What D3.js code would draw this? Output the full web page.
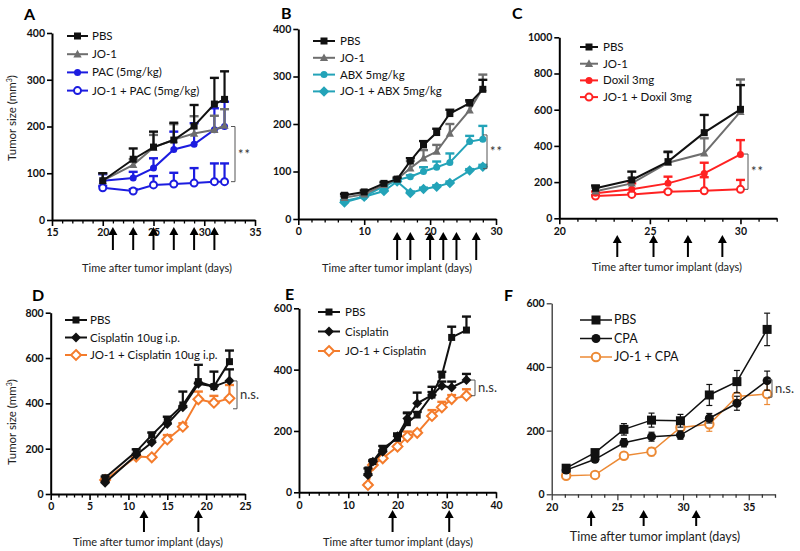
<!DOCTYPE html>
<html><head><meta charset="utf-8">
<script src="https://cdn.jsdelivr.net/npm/d3@7"></script>
<style>body{margin:0;background:#fff}</style>
</head><body><svg id="c" width="800" height="551"></svg>
<script>
// ---------------- DATA ----------------
// Panel A
const A_days = [20,23,25,27,29,31,32];
const A_PBS = [84,130,156,171,201,248,258];
const A_PBS_err = [16,23,33,37,45,56,60];
const A_JO1 = [84,118,155,172,185,193,202];
const A_JO1_err = [16,12,27,33,37,30,35];
const A_PAC = [84,90,111,151,162,193,200];
const A_PAC_err = [14,13,21,38,45,46,53];
const A_JOPAC = [69,62,75,77,79,82,82];
const A_JOPAC_err = [4,4,19,24,32,39,39];
const A_arrows = [21,23,25,27,29,31];
const A_xticks = [15,20,25,30,35];
const A_yticks = [0,100,200,300,400];
const A_bracket = [200,82];
// Panel B
const B_days = [7,10,13,15,17,19,21,23,26,28];
const B_PBS = [50,57,75,84,122,156,182,222,244,273];
const B_PBS_err = [3,3,3,3,6,8,8,8,6,20];
const B_JO1 = [45,52,72,84,107,128,142,180,229,276];
const B_JO1_err = [3,3,3,3,15,17,14,20,18,28];
const B_ABX = [38,47,69,82,89,100,109,119,163,168];
const B_ABX_err = [2,2,2,2,3,9,12,19,12,28];
const B_JOABX = [35,47,59,79,55,63,68,76,102,110];
const B_JOABX_err = [2,2,2,2,3,3,3,3,3,4];
const B_arrows = [15,17,20,22,24,27];
const B_xticks = [0,10,20,30];
const B_yticks = [0,100,200,300,400];
const B_bracket = [177,106];
// Panel C
const C_days = [22,24,26,28,30];
const C_PBS = [166,212,313,473,602];
const C_PBS_err = [15,46,55,98,134];
const C_JO1 = [150,193,307,359,589];
const C_JO1_err = [20,30,58,83,178];
const C_DOX = [138,160,193,248,353];
const C_DOX_err = [10,33,37,59,79];
const C_JODOX = [123,132,147,152,160];
const C_JODOX_err = [5,5,5,75,52];
const C_arrows = [23.2,25.2,27.1,29];
const C_xticks = [20,25,30];
const C_yticks = [0,200,400,600,800,1000];
const C_bracket = [355,160];
// Panel D
const D_days = [7,11,13,15,17,19,21,23];
const D_PBS = [72,187,260,327,393,496,474,584];
const D_PBS_err = [5,10,11,14,59,74,66,49];
const D_CIS = [50,172,227,309,383,486,474,500];
const D_CIS_err = [5,5,5,5,5,5,5,50];
const D_JOCIS = [62,165,162,241,297,418,403,422];
const D_JOCIS_err = [5,5,5,19,15,34,30,59];
const D_arrows = [12,19];
const D_xticks = [0,5,10,15,20,25];
const D_yticks = [0,200,400,600,800];
const D_bracket = [499,376];
// Panel E
const E_days = [14,15,17,20,22,24,27,29,31,34];
const E_PBS = [73,100,143,176,227,252,317,382,505,529];
const E_PBS_err = [5,5,8,16,33,10,27,11,35,44];
const E_CIS = [56,100,132,183,241,290,317,347,342,366];
const E_CIS_err = [3,3,5,5,17,35,10,14,19,20];
const E_JOCIS = [24,89,111,149,181,194,249,277,304,315];
const E_JOCIS_err = [3,3,3,3,17,5,19,18,13,21];
const E_arrows = [19,30.5];
const E_xticks = [0,10,20,30,40];
const E_yticks = [0,200,400,600];
const E_bracket = [366,315];
// Panel F
const F_days = [21.1,23.3,25.5,27.6,29.8,32,34.1,36.4];
const F_PBS = [82,131,204,233,231,312,354,518];
const F_PBS_err = [5,7,18,22,20,33,35,51];
const F_CPA = [76,110,162,181,186,239,286,357];
const F_CPA_err = [4,6,13,14,13,15,22,30];
const F_JOCPA = [58,61,121,134,210,220,307,315];
const F_JOCPA_err = [3,3,10,13,8,22,10,33];
const F_arrows = [23,27,31];
const F_xticks = [20,25,30,35];
const F_yticks = [0,200,400,600];
const F_bracket = [360,305];

// ---------------- STYLE ----------------
const FONT = "Lato, 'Open Sans', 'DejaVu Sans', sans-serif";
const BLACK = "#111", GRAY = "#6e6e6e", BLUE = "#1c1ce0", TEAL = "#23a3b8",
      RED = "#ff2222", ORANGE = "#f47c2c", ORANGE_F = "#ec8a35";

const svg = d3.select("#c");

function marker(sel, shape, color, open, size) {
  let p;
  if (shape === "square") p = sel.append("rect").attr("x",-size/2).attr("y",-size/2).attr("width",size).attr("height",size);
  else if (shape === "diamond") { const s=size*0.62; p = sel.append("path").attr("d",`M0,${-s}L${s},0L0,${s}L${-s},0Z`); }
  else if (shape === "triangle") { const s=size*0.62; p = sel.append("path").attr("d",`M0,${-s}L${s*0.95},${s*0.75}L${-s*0.95},${s*0.75}Z`); }
  else p = sel.append("circle").attr("r", size/2);
  if (open) p.attr("fill","#fff").attr("stroke",color).attr("stroke-width",2);
  else p.attr("fill",color);
  return p;
}

function drawPanel(L, series, xticks, yticks, arrows, bracket) {
  const g = svg.append("g");
  const x = d3.scaleLinear().domain(L.xd).range([L.x0, L.x1]);
  const y = d3.scaleLinear().domain(L.yd).range([L.y0, L.y1]);
  const axisColor = L.F ? "#333" : "#000";
  const aw = L.F ? 1.3 : 2;

  // minor x ticks
  const minor = d3.range(L.xd[0], L.xd[1] + 0.001, L.minorStep).filter(v => !xticks.includes(v));
  g.append("g").attr("transform",`translate(0,${L.y0})`)
    .call(d3.axisBottom(x).tickValues(minor).tickSize(3.5).tickSizeOuter(0).tickFormat(""))
    .call(a => { a.select(".domain").remove(); a.selectAll("line").attr("stroke",axisColor).attr("stroke-width",1.3); });
  // major x
  const gx = g.append("g").attr("transform",`translate(0,${L.y0})`)
    .call(d3.axisBottom(x).tickValues(xticks).tickSize(6).tickSizeOuter(0).tickPadding(3).tickFormat(d3.format("d")));
  // y axis
  const gy = g.append("g").attr("transform",`translate(${L.x0},0)`)
    .call(d3.axisLeft(y).tickValues(yticks).tickSize(5).tickSizeOuter(0).tickPadding(2).tickFormat(d3.format("d")));
  [gx, gy].forEach(a => {
    a.select(".domain").attr("stroke",axisColor).attr("stroke-width",aw);
    a.selectAll(".tick line").attr("stroke",axisColor).attr("stroke-width",L.F?1.2:1.6);
    a.selectAll(".tick text").attr("font-family",FONT).attr("font-weight","bold")
      .attr("font-size",L.tickFs||10.5).attr("fill","#111");
  });

  // series (draw last first so first series is on top)
  series.slice().reverse().forEach(s => {
    const pts = s.days.map((d,i) => ({d, v:s.v[i], e:s.e[i]}));
    const sg = g.append("g");
    pts.forEach(p => {
      const cw = L.F ? 3 : 4.5;
      const top = y(p.v + p.e), bot = L.F ? y(p.v - p.e) : y(p.v);
      sg.append("line").attr("x1",x(p.d)).attr("x2",x(p.d)).attr("y1",top).attr("y2",bot)
        .attr("stroke",s.c).attr("stroke-width",L.F?1.2:2.2);
      sg.append("line").attr("x1",x(p.d)-cw).attr("x2",x(p.d)+cw).attr("y1",top).attr("y2",top)
        .attr("stroke",s.c).attr("stroke-width",L.F?1.2:2.4);
      if (L.F) sg.append("line").attr("x1",x(p.d)-cw).attr("x2",x(p.d)+cw).attr("y1",bot).attr("y2",bot)
        .attr("stroke",s.c).attr("stroke-width",1.2);
    });
    sg.append("path").datum(pts)
      .attr("d", d3.line().x(p => x(p.d)).y(p => y(p.v)))
      .attr("fill","none").attr("stroke",s.c).attr("stroke-width",L.F?1.5:2);
    pts.forEach(p => {
      marker(sg.append("g").attr("transform",`translate(${x(p.d)},${y(p.v)})`), s.shape, s.c, s.open, s.size||(L.F?8:7));
    });
  });

  // legend
  series.forEach((s,i) => {
    const ly = L.leg.y + i*L.leg.step;
    g.append("line").attr("x1",L.leg.x0).attr("x2",L.leg.x1).attr("y1",ly).attr("y2",ly)
      .attr("stroke",s.c).attr("stroke-width",L.F?1.5:2);
    marker(g.append("g").attr("transform",`translate(${(L.leg.x0+L.leg.x1)/2},${ly})`), s.shape, s.c, s.open, s.size||(L.F?8:7));
    g.append("text").attr("x",L.leg.tx).attr("y",ly).attr("dy","0.35em")
      .attr("font-family",FONT).attr("font-size",L.legFs||11.5).attr("fill","#111").text(s.name);
  });

  // arrows
  arrows.forEach(a => {
    const ax = x(a);
    g.append("line").attr("x1",ax).attr("x2",ax).attr("y1",L.arr[1]).attr("y2",L.arr[0]+6)
      .attr("stroke","#000").attr("stroke-width",2);
    g.append("path").attr("d",`M${ax},${L.arr[0]}L${ax+4.5},${L.arr[0]+8}L${ax-4.5},${L.arr[0]+8}Z`).attr("fill","#000");
  });

  // significance bracket
  const b1 = y(bracket[0]), b2 = y(bracket[1]);
  g.append("path").attr("d",`M${L.br.x-4},${b1}H${L.br.x}V${b2}H${L.br.x-4}`)
    .attr("fill","none").attr("stroke","#555").attr("stroke-width",1);
  g.append("text").attr("x",L.br.x+3).attr("y",(b1+b2)/2).attr("dy",L.br.dy||"0.35em")
    .attr("font-family",FONT).attr("font-size",L.br.fs||13).attr("letter-spacing",L.br.ls||0)
    .attr("fill","#333").text(L.br.t);

  // titles
  g.append("text").attr("x",L.xt[0]).attr("y",L.xt[1]).attr("dy","0.35em").attr("text-anchor","middle")
    .attr("font-family",FONT).attr("font-size",L.xtFs||11).attr("fill","#222").text("Time after tumor implant (days)");
  if (L.yt) {
    const t = g.append("text").attr("transform",`translate(${L.yt[0]},${L.yt[1]}) rotate(-90)`)
      .attr("text-anchor","middle").attr("dy","0.35em").attr("font-family",FONT).attr("font-size",11.5).attr("fill","#222");
    t.append("tspan").text("Tumor size (mm");
    t.append("tspan").attr("font-size",7).attr("baseline-shift","super").text("3");
    t.append("tspan").text(")");
  }
  g.append("text").attr("x",L.lab[0]).attr("y",L.lab[1]).attr("font-family",FONT)
    .attr("font-weight","bold").attr("font-size",16).attr("fill","#000").text(L.label);
}

// ---------------- PANELS ----------------
drawPanel({label:"A", lab:[24,20], x0:52, x1:255, y0:220, y1:33, xd:[15,35], yd:[0,400], minorStep:1,
  leg:{x0:67,x1:88,tx:92,y:36,step:18.2}, arr:[227,250], br:{x:235,t:"**",ls:1}, xt:[157,268], yt:[12,118]},
  [{name:"PBS", days:A_days, v:A_PBS, e:A_PBS_err, c:BLACK, shape:"square"},
   {name:"JO-1", days:A_days, v:A_JO1, e:A_JO1_err, c:GRAY, shape:"triangle"},
   {name:"PAC (5mg/kg)", days:A_days, v:A_PAC, e:A_PAC_err, c:BLUE, shape:"circle"},
   {name:"JO-1 + PAC (5mg/kg)", days:A_days, v:A_JOPAC, e:A_JOPAC_err, c:BLUE, shape:"circle", open:true}],
  A_xticks, A_yticks, A_arrows, A_bracket);

drawPanel({label:"B", lab:[281,19], x0:298.3, x1:496, y0:219, y1:29, xd:[0,30], yd:[0,400], minorStep:2,
  leg:{x0:313,x1:335,tx:340,y:41,step:16.8}, arr:[232,260], br:{x:487,t:"**",ls:1}, xt:[397,268]},
  [{name:"PBS", days:B_days, v:B_PBS, e:B_PBS_err, c:BLACK, shape:"square"},
   {name:"JO-1", days:B_days, v:B_JO1, e:B_JO1_err, c:GRAY, shape:"triangle"},
   {name:"ABX 5mg/kg", days:B_days, v:B_ABX, e:B_ABX_err, c:TEAL, shape:"circle"},
   {name:"JO-1 + ABX 5mg/kg", days:B_days, v:B_JOABX, e:B_JOABX_err, c:TEAL, shape:"diamond", size:8.5}],
  B_xticks, B_yticks, B_arrows, B_bracket);

drawPanel({label:"C", lab:[512,19], x0:559.3, x1:776.7, y0:218.3, y1:37.3, xd:[20,32], yd:[0,1000], minorStep:1,
  leg:{x0:580,x1:598,tx:603,y:47,step:16.7}, arr:[235,257], br:{x:748,t:"**",ls:1}, xt:[667,267]},
  [{name:"PBS", days:C_days, v:C_PBS, e:C_PBS_err, c:BLACK, shape:"square"},
   {name:"JO-1", days:C_days, v:C_JO1, e:C_JO1_err, c:GRAY, shape:"triangle"},
   {name:"Doxil 3mg", days:C_days, v:C_DOX, e:C_DOX_err, c:RED, shape:"circle"},
   {name:"JO-1 + Doxil 3mg", days:C_days, v:C_JODOX, e:C_JODOX_err, c:RED, shape:"circle", open:true}],
  C_xticks, C_yticks, C_arrows, C_bracket);

drawPanel({label:"D", lab:[32,301], x0:50.7, x1:245, y0:494, y1:312.7, xd:[0,25], yd:[0,800], minorStep:1,
  leg:{x0:65,x1:87,tx:90,y:320,step:17.5}, arr:[510,532], br:{x:237,t:"n.s."}, xt:[148,542], yt:[12,422]},
  [{name:"PBS", days:D_days, v:D_PBS, e:D_PBS_err, c:BLACK, shape:"square"},
   {name:"Cisplatin 10ug i.p.", days:D_days, v:D_CIS, e:D_CIS_err, c:BLACK, shape:"diamond", size:8},
   {name:"JO-1 + Cisplatin 10ug i.p.", days:D_days, v:D_JOCIS, e:D_JOCIS_err, c:ORANGE, shape:"diamond", open:true, size:8}],
  D_xticks, D_yticks, D_arrows, D_bracket);

drawPanel({label:"E", lab:[285,300], x0:299, x1:496, y0:492.3, y1:308.3, xd:[0,40], yd:[0,600], minorStep:2,
  leg:{x0:318,x1:340,tx:345,y:312,step:19.5}, arr:[510,532], br:{x:475,t:"n.s."}, xt:[398,542]},
  [{name:"PBS", days:E_days, v:E_PBS, e:E_PBS_err, c:BLACK, shape:"square"},
   {name:" Cisplatin", days:E_days, v:E_CIS, e:E_CIS_err, c:BLACK, shape:"diamond", size:8},
   {name:"JO-1 + Cisplatin", days:E_days, v:E_JOCIS, e:E_JOCIS_err, c:ORANGE, shape:"diamond", open:true, size:8}],
  E_xticks, E_yticks, E_arrows, E_bracket);

drawPanel({label:"F", lab:[504,301], F:true, x0:551.7, x1:775, y0:494.3, y1:303.3, xd:[20,37], yd:[0,600], minorStep:1,
  leg:{x0:580,x1:612,tx:614,y:320,step:18.5}, arr:[510,526], br:{x:772,t:"n.s."}, xt:[655,537], xtFs:12.5, legFs:12.5},
  [{name:"PBS", days:F_days, v:F_PBS, e:F_PBS_err, c:BLACK, shape:"square", size:9},
   {name:"CPA", days:F_days, v:F_CPA, e:F_CPA_err, c:BLACK, shape:"circle", size:9},
   {name:"JO-1 + CPA", days:F_days, v:F_JOCPA, e:F_JOCPA_err, c:ORANGE_F, shape:"circle", open:true, size:8.5}],
  F_xticks, F_yticks, F_arrows, F_bracket);
</script></body></html>
